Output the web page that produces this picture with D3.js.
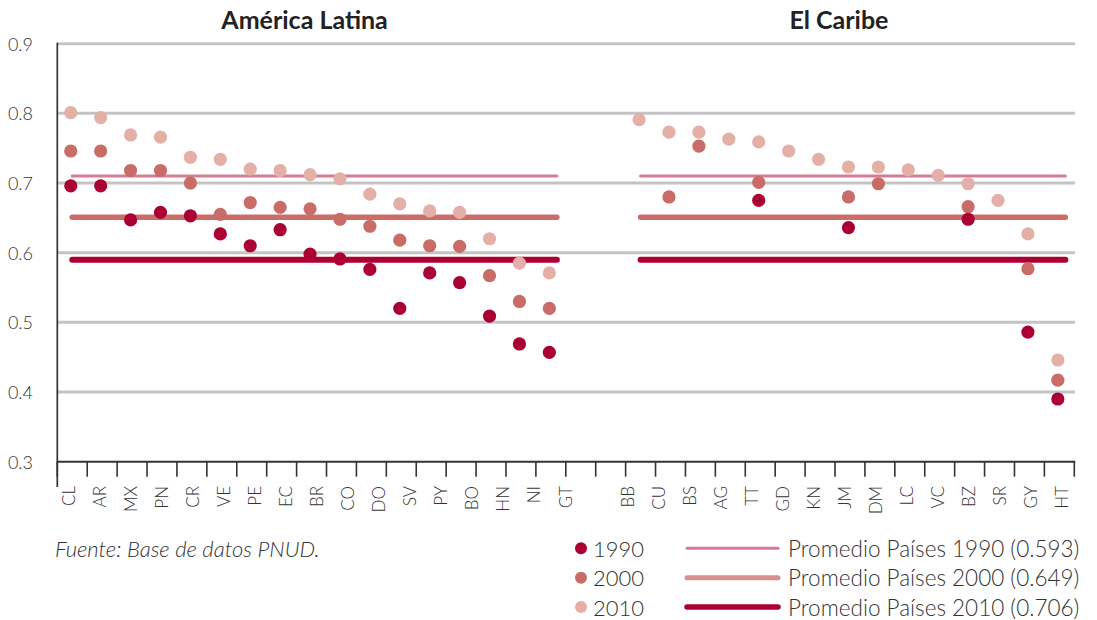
<!DOCTYPE html>
<html>
<head>
<meta charset="utf-8">
<script src="https://cdn.jsdelivr.net/npm/d3@7"></script>
<style>
  html, body { margin: 0; padding: 0; background: #fff; }
  svg { display: block; }
  text { font-family: Lato, "Open Sans", sans-serif; fill: #333; }
</style>
</head>
<body>
<svg id="chart" width="1097" height="620"></svg>
<script>
// ---------- DATA ----------
const latCats = ["CL","AR","MX","PN","CR","VE","PE","EC","BR","CO","DO","SV","PY","BO","HN","NI","GT"];
const lat1990 = [0.696,0.696,0.647,0.658,0.653,0.627,0.610,0.633,0.598,0.591,0.576,0.520,0.571,0.557,0.509,0.469,0.457];
const lat2000 = [0.746,0.746,0.718,0.718,0.700,0.655,0.672,0.665,0.663,0.648,0.638,0.618,0.610,0.609,0.567,0.530,0.520];
const lat2010 = [0.801,0.794,0.769,0.766,0.737,0.734,0.720,0.718,0.712,0.706,0.684,0.670,0.660,0.658,0.620,0.585,0.571];

const carCats = ["BB","CU","BS","AG","TT","GD","KN","JM","DM","LC","VC","BZ","SR","GY","HT"];
const car1990 = [null,null,null,null,0.675,null,null,0.636,null,null,null,0.648,null,0.486,0.390];
const car2000 = [null,0.680,0.753,null,0.701,null,null,0.680,0.699,null,null,0.666,null,0.577,0.417];
const car2010 = [0.791,0.773,0.773,0.763,0.759,0.746,0.734,0.723,0.723,0.719,0.711,0.699,0.675,0.627,0.446];

// Average lines as drawn (thin, medium, thick)
const avgLevels = [0.710, 0.651, 0.590];
const avgLegend = ["Promedio Países 1990 (0.593)", "Promedio Países 2000 (0.649)", "Promedio Países 2010 (0.706)"];
const yearLabels = ["1990", "2000", "2010"];
const yTicks = [0.3, 0.4, 0.5, 0.6, 0.7, 0.8, 0.9];
const panelTitles = ["América Latina", "El Caribe"];
const source = "Fuente: Base de datos PNUD.";

// ---------- STYLE ----------
const dotColors = ["#ab0033", "#c96c67", "#e4afa7"];
const lineColors = ["#d47d94", "#cb6e69", "#ae0033"];
const legendLineColors = ["#d47d94", "#d8918e", "#ae0033"];
const lineWidths = [3, 5.5, 6];

const svg = d3.select("#chart");

const gap = ["_g1", "_g2"];
const slots = latCats.concat(gap, carCats);
const x = d3.scaleBand().domain(slots).range([57.3, 1074.3]).paddingInner(0).paddingOuter(0);
const xc = d => x(d) + x.bandwidth() / 2;
const labelSlots = latCats.concat(["_g"], carCats);
const xl = d3.scalePoint().domain(labelSlots).range([68.3, 1061.7]);
const y = d3.scaleLinear().domain([0.3, 0.9]).range([461.7, 43.7]);

// gridlines
svg.append("g").selectAll("line").data(yTicks.filter(t => t > 0.3)).join("line")
  .attr("x1", 57.3).attr("x2", 1075)
  .attr("y1", d => y(d)).attr("y2", d => y(d))
  .attr("stroke", "#c4c4c4").attr("stroke-width", 3);

// y tick labels
svg.append("g").selectAll("text").data(yTicks).join("text")
  .attr("x", 33).attr("y", d => y(d))
  .attr("text-anchor", "end").attr("dominant-baseline", "central")
  .style("font-size", "18px").style("font-weight", 300)
  .text(d => d3.format(".1f")(d));

// x axis line and ticks
const xAxis = d3.axisBottom(x).tickSize(0).tickFormat("");
const ax = svg.append("g").attr("transform", `translate(0,${y(0.3)})`).call(xAxis);
ax.select(".domain").attr("stroke", "#333").attr("stroke-width", 2).attr("d", `M${x.range()[0]},0H${x.range()[1] + 1}`);
const bounds = slots.map(s => x(s)).concat([x.range()[1]]);
ax.selectAll(".bt").data(bounds).join("line").attr("class", "bt")
  .attr("x1", d => d).attr("x2", d => d).attr("y1", 0).attr("y2", 15)
  .attr("stroke", "#333").attr("stroke-width", 1.6);

// y axis line
svg.append("line").attr("x1", x.range()[0]).attr("x2", x.range()[0])
  .attr("y1", y(0.9) - 1).attr("y2", 487)
  .attr("stroke", "#333").attr("stroke-width", 1.7);

// x labels
svg.append("g").selectAll("text").data(latCats.concat(carCats)).join("text")
  .attr("transform", d => `translate(${xl(d)},486) rotate(-90)`)
  .attr("text-anchor", "end").attr("dominant-baseline", "central")
  .style("font-size", "17px").style("font-weight", 300)
  .text(d => d);

// average lines
const groups = [latCats, carCats];
groups.forEach(cats => {
  avgLevels.forEach((v, i) => {
    svg.append("line")
      .attr("x1", xc(cats[0])).attr("x2", xc(cats[cats.length - 1]) + 6)
      .attr("y1", y(v)).attr("y2", y(v))
      .attr("stroke", lineColors[i]).attr("stroke-width", lineWidths[i])
      .attr("stroke-linecap", "round");
  });
});

// dots: 2010 first, then 2000, then 1990
const series = [
  [lat1990, car1990], [lat2000, car2000], [lat2010, car2010]
];
[2, 1, 0].forEach(si => {
  const pts = [];
  latCats.forEach((c, i) => { if (series[si][0][i] != null) pts.push([c, series[si][0][i]]); });
  carCats.forEach((c, i) => { if (series[si][1][i] != null) pts.push([c, series[si][1][i]]); });
  svg.append("g").selectAll("circle").data(pts).join("circle")
    .attr("cx", d => xc(d[0]) - 1.5).attr("cy", d => y(d[1]))
    .attr("r", 6.6).attr("fill", dotColors[si]);
});

// titles
const titleCenters = [
  (xc(latCats[0]) + xc(latCats[latCats.length - 1])) / 2 - 7,
  (xc(carCats[0]) + xc(carCats[carCats.length - 1])) / 2 - 11
];
svg.append("g").selectAll("text").data(panelTitles).join("text")
  .attr("x", (d, i) => titleCenters[i]).attr("y", 29)
  .attr("text-anchor", "middle")
  .style("font-size", "25px").style("font-weight", 700).style("fill", "#222")
  .text(d => d);

// source
svg.append("text").attr("x", 55).attr("y", 548)
  .attr("dominant-baseline", "central")
  .style("font-size", "22px").style("font-style", "italic").style("font-weight", 300)
  .text(source);

// legend
const legY = d3.scalePoint().domain(yearLabels).range([548.3, 607]);
const leg = svg.append("g");
leg.selectAll("circle").data(yearLabels).join("circle")
  .attr("cx", 581).attr("cy", d => legY(d)).attr("r", 6)
  .attr("fill", (d, i) => dotColors[i]);
leg.selectAll("text.yr").data(yearLabels).join("text").attr("class", "yr")
  .attr("x", 593).attr("y", d => legY(d)).attr("dominant-baseline", "central")
  .style("font-size", "22px").style("font-weight", 300).text(d => d);
leg.selectAll("line").data(yearLabels).join("line")
  .attr("x1", 687).attr("x2", 778)
  .attr("y1", d => legY(d)).attr("y2", d => legY(d))
  .attr("stroke", (d, i) => legendLineColors[i])
  .attr("stroke-width", (d, i) => [3, 5, 5.5][i])
  .attr("stroke-linecap", "round");
leg.selectAll("text.lb").data(avgLegend).join("text").attr("class", "lb")
  .attr("x", 788).attr("y", (d, i) => legY(yearLabels[i])).attr("dominant-baseline", "central")
  .style("font-size", "22.5px").style("font-weight", 300).text(d => d);
</script>
</body>
</html>
